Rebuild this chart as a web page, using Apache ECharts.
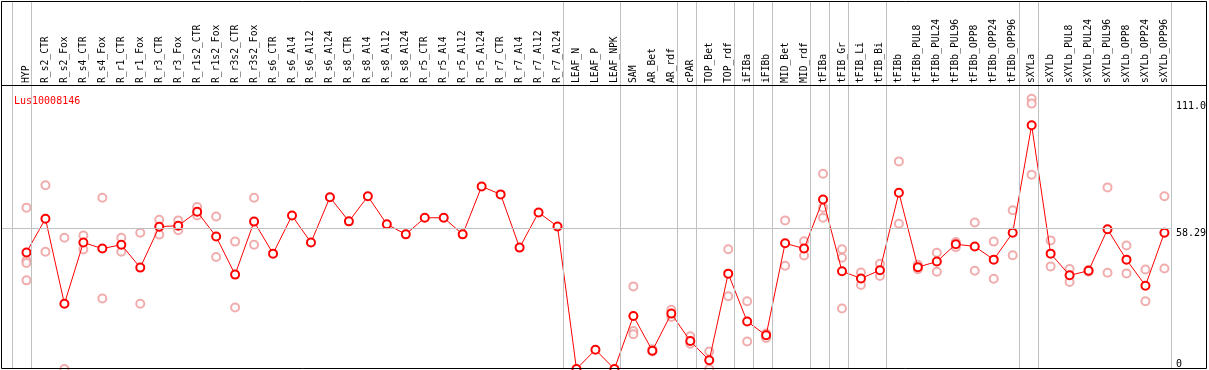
<!DOCTYPE html>
<html>
<head>
<meta charset="utf-8">
<script src="https://cdn.jsdelivr.net/npm/echarts@6/dist/echarts.min.js"></script>
<style>
html,body{margin:0;padding:0;background:#fff;}
#chart{width:1209px;height:370px;}
</style>
</head>
<body>
<div id="chart"></div>
<script>
var title = 'Lus10008146';
var categories = ['HYP','R_s2_CTR','R_s2_Fox','R_s4_CTR','R_s4_Fox','R_r1_CTR','R_r1_Fox','R_r3_CTR','R_r3_Fox','R_r1s2_CTR','R_r1s2_Fox','R_r3s2_CTR','R_r3s2_Fox','R_s6_CTR','R_s6_Al4','R_s6_Al12','R_s6_Al24','R_s8_CTR','R_s8_Al4','R_s8_Al12','R_s8_Al24','R_r5_CTR','R_r5_Al4','R_r5_Al12','R_r5_Al24','R_r7_CTR','R_r7_Al4','R_r7_Al12','R_r7_Al24','LEAF_N','LEAF_P','LEAF_NPK','SAM','AR_Bet','AR_rdf','cPAR','TOP_Bet','TOP_rdf','iFIBa','iFIBb','MID_Bet','MID_rdf','tFIBa','tFIB_Gr','tFIB_Li','tFIB_Bi','tFIBb','tFIBb_PUL8','tFIBb_PUL24','tFIBb_PUL96','tFIBb_OPP8','tFIBb_OPP24','tFIBb_OPP96','sXYLa','sXYLb','sXYLb_PUL8','sXYLb_PUL24','sXYLb_PUL96','sXYLb_OPP8','sXYLb_OPP24','sXYLb_OPP96'];
var means = [48.4,62.4,27.1,52.5,50.0,51.6,42.1,59.1,59.5,65.3,55.0,39.2,61.2,47.9,63.7,52.5,71.3,61.3,71.7,60.1,55.9,62.8,62.8,55.9,75.8,72.5,50.4,65.0,59.2,0,8.0,0,22.0,7.6,23.0,11.6,3.6,39.6,19.7,14.0,52.2,50.0,70.4,40.6,37.6,41.0,73.2,42.3,44.6,51.8,50.9,45.4,56.6,101.2,47.9,38.9,40.8,58.0,45.4,34.6,56.6];
var replicates = [
  [67.0,45.1,44.0,36.8],[76.3,48.7],[54.5,0],[55.4,49.6],[71.1,29.3],[54.5,48.7],[56.6,27.1],[62.0,55.8],[61.7,57.6],[67.3,63.7],
  [63.3,46.5],[52.9,25.5],[71.1,51.6],[],[],[],[],[],[],[],
  [],[],[],[],[],[],[],[],[],[],
  [],[],[34.3,15.8,14.4],[8.2,7.3],[24.6,21.6],[13.6,10.5],[7.3,0],[49.7,30.2],[28.1,11.4],[12.9,14.7],
  [61.7,42.9],[53.0,47.1],[81.1,67.0,62.8],[49.7,46.2,25.1],[40.1,34.9],[43.7,38.6],[86.2,60.3],[43.3,41.4],[48.3,40.4],[52.7,50.6],
  [60.8,40.8],[52.9,37.5],[65.9,47.2],[112.2,110.2,80.7],[53.4,42.6],[41.5,36.1],[41.2,40.4],[75.4,40.0],[51.3,39.7],[41.3,28.1],
  [71.7,41.7]
];
var groupEnds = [-1,0,28,31,34,35,37,38,39,41,42,43,45,52,53,60];
var refValue = 58.29;
var yTickValues = [0, 58.29, 111.0];
var yTickLabels = ['0', '58.29', '111.0'];

// layout: category band 19px, plot starts at 17px, frame starts at 1px
var band = 19, plotLeft = 17, frameLeft = 1, yMax = 152.8;
var sepOffset = 4.5 / band;
var frameMin = -0.5 - (plotLeft - frameLeft) / band;

var repPoints = [];
replicates.forEach(function (arr, i) { arr.forEach(function (v) { repPoints.push([i, v]); }); });
var sepLines = groupEnds.map(function (e) { return { xAxis: e + sepOffset }; });
sepLines.push([{ coord: [frameMin, refValue] }, { coord: [categories.length - 1 + sepOffset, refValue] }]);

var mono = 'DejaVu Sans Mono';
var chart = echarts.init(document.getElementById('chart'), null, { renderer: 'canvas' });
chart.setOption({
  animation: false,
  backgroundColor: '#fff',
  title: {
    text: title, left: 9, top: 91,
    textStyle: { color: '#ff0000', fontSize: 10, fontFamily: mono, fontWeight: 'normal' }
  },
  grid: [
    { left: plotLeft, top: 1, width: categories.length * band, height: 368 },
    { left: frameLeft, top: 1, width: categories.length * band + plotLeft - frameLeft, height: 368 }
  ],
  xAxis: [
    {
      type: 'category', data: categories, position: 'top', offset: -84, gridIndex: 0,
      axisLine: { show: false }, axisTick: { show: false }, splitLine: { show: false },
      axisLabel: { rotate: 90, interval: 0, margin: 2, fontFamily: mono, fontSize: 9.7, color: '#000' }
    },
    { type: 'value', gridIndex: 1, min: frameMin, max: categories.length - 0.5, show: false }
  ],
  yAxis: [
    {
      type: 'value', min: 0, max: yMax, position: 'right', gridIndex: 0,
      axisLine: { show: false }, axisTick: { show: false }, splitLine: { show: false },
      axisLabel: {
        customValues: yTickValues, margin: 2, fontFamily: mono, fontSize: 10, color: '#000',
        verticalAlign: 'top', verticalAlignMinLabel: 'bottom',
        formatter: function (v) { var k = yTickValues.indexOf(v); return k >= 0 ? yTickLabels[k] : ''; }
      }
    },
    { type: 'value', min: 0, max: yMax, gridIndex: 1, show: false }
  ],
  graphic: [
    { type: 'rect', shape: { x: 1.5, y: 1.5, width: 1205, height: 367 }, style: { fill: null, stroke: '#000', lineWidth: 1 }, z: 100, silent: true },
    { type: 'line', shape: { x1: 1, y1: 85.5, x2: 1207, y2: 85.5 }, style: { stroke: '#000', lineWidth: 1 }, z: 100, silent: true }
  ],
  series: [
    {
      type: 'line', xAxisIndex: 1, yAxisIndex: 1, data: [], silent: true,
      markLine: {
        silent: true, symbol: ['none', 'none'], label: { show: false },
        lineStyle: { color: '#c0c0c0', width: 1, type: 'solid' },
        emphasis: { disabled: true },
        data: sepLines
      }
    },
    {
      type: 'scatter', xAxisIndex: 0, yAxisIndex: 0, data: repPoints, symbol: 'emptyCircle', symbolSize: 8,
      itemStyle: { color: '#ee9999', borderColor: '#ee9999', borderWidth: 1 }, z: 2
    },
    {
      type: 'line', xAxisIndex: 0, yAxisIndex: 0, data: means, symbol: 'emptyCircle', symbolSize: 8,
      lineStyle: { color: '#ff0000', width: 1 },
      itemStyle: { color: '#ff0000', borderColor: '#e00000', borderWidth: 1.6 }, z: 3
    }
  ]
});
</script>
</body>
</html>
